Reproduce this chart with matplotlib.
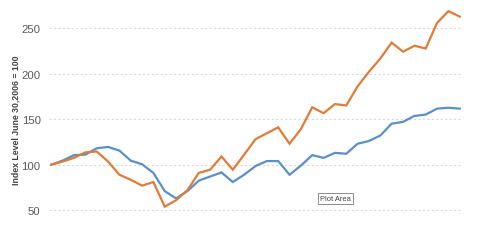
import matplotlib
matplotlib.use("Agg")
import matplotlib.pyplot as plt
from matplotlib.patches import Rectangle
import numpy as np

plt.rcParams['font.family'] = ['Liberation Sans', 'DejaVu Sans']

# quarterly index levels, June 30 2006 = 100
quarters = np.arange(37)
blue_vals = [100, 104.5, 110.5, 111, 118, 119.5, 115.5, 104.5, 100.5, 91, 71, 63,
             71, 82.5, 87, 91.5, 81, 89, 98.5, 104, 104, 89, 99, 110.5,
             107.5, 113, 112, 123, 126, 132, 145, 147, 153.5, 155, 161.5, 162.5, 161.5]
orange_vals = [100, 103.5, 107.5, 113.5, 114.5, 103.5, 89, 83.5, 77, 81, 54, 61,
               72, 91, 94.5, 109, 94.5, 111, 128, 134.5, 141, 123, 139, 163,
               156.5, 166.5, 165, 186, 202, 216.5, 234, 224, 230.5, 227.5, 255.5, 268.5, 262.5]
yticks = [50, 100, 150, 200, 250]

fig = plt.figure(figsize=(4.8, 2.51), dpi=100)
ax = fig.add_axes([0.1021, 0.0857, 0.8604, 0.9077])

ax.plot(quarters, blue_vals, color='#5B8FC9', lw=1.6, solid_joinstyle='miter')
ax.plot(quarters, orange_vals, color='#E07B39', lw=1.6, solid_joinstyle='miter')

ax.set_xlim(-0.2, 36.2)
ax.set_ylim(30, 280)
ax.set_yticks(yticks)
ax.set_xticks([])
ax.grid(axis='y', color='#D9D9D9', linestyle=(0, (2, 2)), lw=0.8)
ax.set_axisbelow(True)
for s in ax.spines.values():
    s.set_visible(False)
ax.tick_params(axis='y', length=0, pad=6, labelsize=8.2, labelcolor='#595959')

fig.text(0.033, 0.521, 'Index Level June 30,2006 = 100', rotation=90,
         ha='center', va='center', fontsize=6.3, fontweight='bold', color='#404040')

# "Plot Area" tooltip left in the screenshot, with a small shadow
fig.patches.append(Rectangle((0.6656, 0.1773), 0.0729, 0.0438, transform=fig.transFigure,
                             fc='#C8C8C8', ec='none', zorder=5))
fig.patches.append(Rectangle((0.6625, 0.1833), 0.0729, 0.0438, transform=fig.transFigure,
                             fc='white', ec='#8C8C8C', lw=0.7, zorder=6))
fig.text(0.699, 0.2052, 'Plot Area', ha='center', va='center', fontsize=5.4,
         color='#404040', zorder=7)

fig.savefig('out.png', dpi=100)
